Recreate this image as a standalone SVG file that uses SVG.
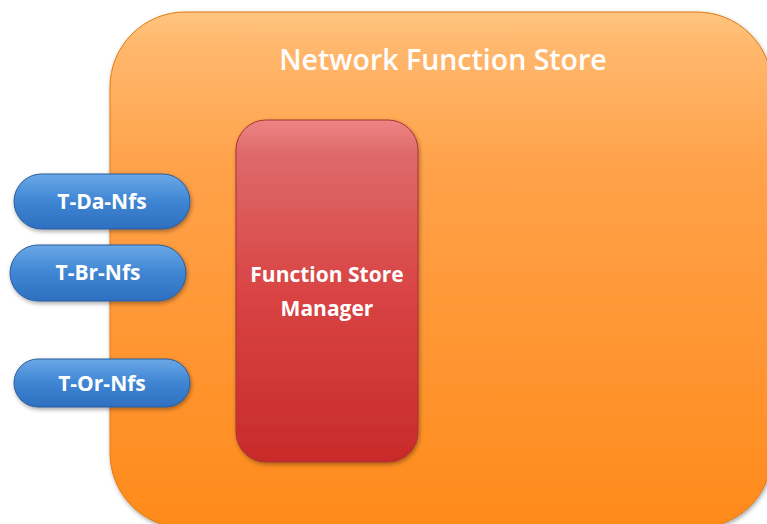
<svg xmlns="http://www.w3.org/2000/svg" width="767" height="524" viewBox="0 0 767 524">
<defs>
<linearGradient id="gOrange" x1="0" y1="0" x2="0" y2="1">
<stop offset="0" stop-color="#ffc580"/>
<stop offset="0.06" stop-color="#ffb86e"/>
<stop offset="0.3" stop-color="#ffa24a"/>
<stop offset="1" stop-color="#ff8a1a"/>
</linearGradient>
<linearGradient id="gRed" x1="0" y1="0" x2="0" y2="1">
<stop offset="0" stop-color="#ee8484"/>
<stop offset="0.1" stop-color="#de6a6a"/>
<stop offset="0.5" stop-color="#d94444"/>
<stop offset="1" stop-color="#c92a2a"/>
</linearGradient>
<linearGradient id="gBlue" x1="0" y1="0" x2="0" y2="1">
<stop offset="0" stop-color="#6aa8e6"/>
<stop offset="0.5" stop-color="#3f85d3"/>
<stop offset="1" stop-color="#2e6fc0"/>
</linearGradient>
<filter id="sh" x="-10%" y="-10%" width="130%" height="130%">
<feDropShadow dx="1" dy="2" stdDeviation="2" flood-color="#000" flood-opacity="0.35"/>
</filter>
<style>
.lbl{font-family:"Open Sans","Liberation Sans",sans-serif;font-weight:bold;fill:#fff;text-anchor:middle}
.pill{fill:url(#gBlue);stroke:#2a5d9c;stroke-width:1;filter:url(#sh)}
</style>
</defs>
<g id="network-function-store">
<rect x="110" y="12" width="662" height="516" rx="75" fill="url(#gOrange)" stroke="#e07a10" stroke-width="1" filter="url(#sh)"/>
<text x="443" y="70" font-family="'Open Sans','Liberation Sans',sans-serif" font-size="28.5" font-weight="600" fill="#fff" text-anchor="middle">Network Function Store</text>
</g>
<g id="function-store-manager">
<rect x="236" y="120" width="182" height="342" rx="30" fill="url(#gRed)" stroke="#a83232" stroke-width="1" filter="url(#sh)"/>
<text class="lbl" x="327" y="282" font-size="21">Function Store</text>
<text class="lbl" x="327" y="316" font-size="21">Manager</text>
</g>
<g id="t-da-nfs">
<rect class="pill" x="14" y="174" width="176" height="55" rx="27.5"/>
<text class="lbl" x="102" y="209" font-size="21">T-Da-Nfs</text>
</g>
<g id="t-br-nfs">
<rect class="pill" x="10" y="245" width="176" height="56" rx="28"/>
<text class="lbl" x="98" y="280" font-size="21">T-Br-Nfs</text>
</g>
<g id="t-or-nfs">
<rect class="pill" x="14" y="359" width="176" height="48" rx="24"/>
<text class="lbl" x="102" y="391" font-size="21">T-Or-Nfs</text>
</g>
<g id="connectors"></g>
</svg>
